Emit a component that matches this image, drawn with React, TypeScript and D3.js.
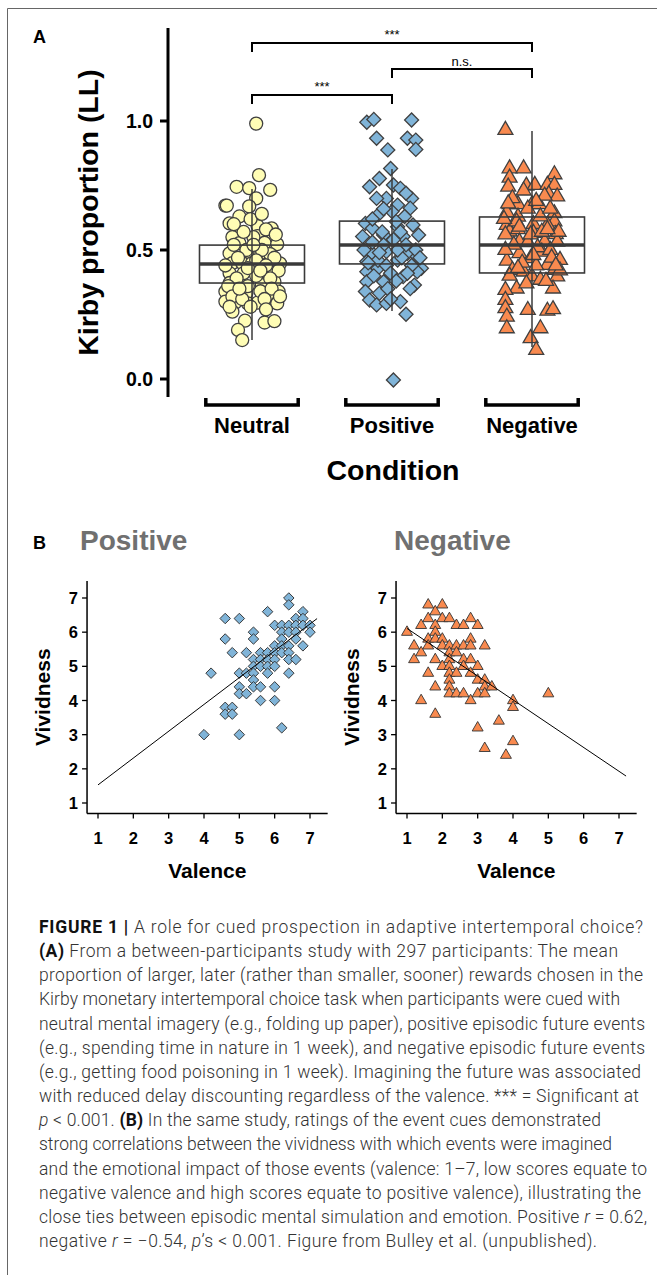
import React from "react";
import * as d3 from "d3";

// ---- Panel A data ----
const conditions = ["Neutral", "Positive", "Negative"];
const yTicksA = [0, 0.5, 1.0];

// [jitter (fraction of category step), Kirby proportion]
const neutralPoints: [number, number][] = [
  [0.03, 0.99], [0.05, 0.79], [-0.11, 0.745], [-0.02, 0.74], [0.13, 0.733], [0.03, 0.70],
  [-0.19, 0.672], [-0.18, 0.672], [-0.02, 0.669], [-0.09, 0.63], [-0.16, 0.603], [0.04, 0.593],
  [0.14, 0.584], [-0.10, 0.566], [-0.14, 0.55], [0.04, 0.554], [0.15, 0.554], [-0.09, 0.527],
  [0.09, 0.528], [0.18, 0.523], [-0.16, 0.487], [-0.03, 0.493], [0.06, 0.487], [0.13, 0.484],
  [-0.14, 0.449], [-0.07, 0.449], [0, 0.449], [0.20, 0.448], [-0.16, 0.41], [0.11, 0.412],
  [0.07, 0.426], [-0.09, 0.377], [-0.16, 0.372], [0.16, 0.377], [-0.19, 0.339], [-0.11, 0.339],
  [-0.04, 0.333], [0.07, 0.364], [0.11, 0.326], [0.19, 0.339], [-0.19, 0.30], [-0.12, 0.296],
  [-0.03, 0.293], [0.04, 0.296], [0.18, 0.293], [-0.14, 0.261], [-0.05, 0.226], [0.09, 0.219],
  [0.16, 0.224], [-0.10, 0.19], [-0.07, 0.151],
  [-0.13, 0.52], [-0.04, 0.50], [0.07, 0.50], [0.16, 0.47], [-0.19, 0.44], [-0.10, 0.47],
  [0.03, 0.46], [0.10, 0.44], [0.19, 0.42], [-0.06, 0.41], [0.03, 0.40], [-0.11, 0.39],
  [0.13, 0.39], [-0.17, 0.36], [-0.03, 0.36], [0.06, 0.34], [0.14, 0.35], [-0.14, 0.32],
  [-0.07, 0.31], [0.09, 0.31], [0.20, 0.32], [-0.01, 0.28], [0.10, 0.27], [-0.16, 0.28],
  [0.01, 0.55], [-0.06, 0.57], [0.10, 0.58], [-0.01, 0.62], [0.07, 0.64], [-0.13, 0.60],
  [0.01, 0.52], [0.17, 0.56], [-0.03, 0.43], [0.06, 0.42], [-0.09, 0.35],
];

const positivePoints: [number, number][] = [
  [-0.18, 0.995], [-0.13, 1.006], [0.14, 1.004], [-0.11, 0.933], [0.11, 0.933], [0.17, 0.926],
  [0.17, 0.89], [-0.03, 0.888], [-0.01, 0.816], [-0.09, 0.777], [-0.16, 0.745], [0.01, 0.752],
  [0.06, 0.739], [0.14, 0.70], [-0.04, 0.70], [0.04, 0.674], [0.13, 0.662], [-0.10, 0.636],
  [0, 0.649], [-0.19, 0.603], [0.15, 0.597], [-0.14, 0.584], [0.04, 0.59], [-0.21, 0.552],
  [-0.06, 0.558], [0.08, 0.552], [0.19, 0.558], [-0.14, 0.487], [-0.04, 0.494], [0.11, 0.487],
  [0.18, 0.474], [-0.18, 0.455], [0.04, 0.461], [-0.10, 0.429], [0.21, 0.429], [-0.18, 0.416],
  [0.08, 0.397], [0.18, 0.416], [-0.18, 0.377], [-0.06, 0.377], [0.16, 0.364], [-0.19, 0.339],
  [-0.09, 0.332], [-0.16, 0.306], [-0.11, 0.287], [-0.04, 0.293], [0.06, 0.30], [0.10, 0.251],
  [0.01, -0.004],
  [-0.14, 0.53], [-0.06, 0.52], [0.01, 0.54], [0.10, 0.52], [0.17, 0.50], [-0.20, 0.50],
  [-0.10, 0.46], [0.07, 0.47], [0.14, 0.44], [-0.04, 0.44], [-0.01, 0.41], [0.11, 0.41],
  [-0.13, 0.40], [0.03, 0.38], [-0.03, 0.35], [0.13, 0.35], [-0.07, 0.57], [0.06, 0.57],
  [-0.14, 0.62], [0.09, 0.63], [-0.06, 0.66], [0.03, 0.61], [-0.11, 0.70], [0.10, 0.72],
  [-0.01, 0.31], [0.20, 0.47], [-0.17, 0.45], [0.04, 0.50], [-0.09, 0.49],
];

const negativePoints: [number, number][] = [
  [-0.19, 0.965], [-0.16, 0.816], [-0.06, 0.816], [0.16, 0.793], [-0.16, 0.78], [-0.17, 0.745],
  [-0.04, 0.749], [0.02, 0.752], [0.11, 0.752], [0.16, 0.752], [0.12, 0.716], [0.18, 0.707],
  [-0.16, 0.677], [-0.10, 0.677], [0, 0.677], [0.05, 0.677], [-0.18, 0.646], [0.16, 0.642],
  [-0.10, 0.629], [0.16, 0.61], [-0.18, 0.597], [0.01, 0.60], [0.11, 0.597], [-0.16, 0.571],
  [-0.10, 0.58], [0.17, 0.561], [-0.19, 0.56], [0.01, 0.566], [-0.09, 0.532], [0.09, 0.532],
  [0.18, 0.532], [-0.09, 0.487], [0.07, 0.493], [-0.01, 0.468], [0.20, 0.461], [-0.18, 0.458],
  [0.11, 0.442], [-0.14, 0.422], [-0.06, 0.416], [0.16, 0.422], [0, 0.397], [0.06, 0.384],
  [0.18, 0.397], [-0.11, 0.35], [-0.19, 0.345], [0.15, 0.35], [-0.19, 0.306], [-0.19, 0.274],
  [-0.03, 0.267], [0.11, 0.264], [0.15, 0.27], [-0.18, 0.241], [-0.18, 0.196], [0.06, 0.196],
  [-0.01, 0.158], [0.03, 0.112],
  [-0.13, 0.52], [-0.03, 0.53], [0.04, 0.51], [0.13, 0.50], [-0.19, 0.50], [-0.07, 0.45],
  [0.03, 0.44], [0.14, 0.47], [-0.16, 0.40], [0.10, 0.38], [-0.04, 0.37], [0.20, 0.42],
  [-0.11, 0.61], [0.06, 0.63], [-0.03, 0.66], [0.13, 0.66], [-0.14, 0.70], [0.09, 0.71],
  [-0.06, 0.73], [0.19, 0.57], [-0.20, 0.62], [-0.01, 0.56], [0.07, 0.57], [-0.09, 0.59],
  [0.01, 0.48], [-0.10, 0.43], [0.17, 0.44], [0.11, 0.58], [-0.17, 0.68], [0.03, 0.69],
];

const groupPoints = [neutralPoints, positivePoints, negativePoints];
const whiskerLow = [0.151, 0.264, 0.124];
const boxQ1 = [0.372, 0.446, 0.411];
const boxMedian = [0.446, 0.519, 0.519];
const boxQ3 = [0.519, 0.612, 0.628];
const whiskerHigh = [0.736, 0.814, 0.961];

const comparisons = [
  { from: 0, to: 2, level: 1.302, label: "***" },
  { from: 1, to: 2, level: 1.202, label: "n.s." },
  { from: 0, to: 1, level: 1.101, label: "***" },
];

// ---- Panel B data ----
const ratingTicks = [1, 2, 3, 4, 5, 6, 7];
const panelTitles = ["Positive", "Negative"];
// [valence, vividness]
const positiveRatings: [number, number][] = [
  [4.0, 3.0], [4.2, 4.8], [4.6, 6.4], [4.6, 5.8], [4.8, 5.4], [4.6, 3.8], [4.6, 3.6], [4.8, 3.8],
  [4.8, 3.6], [5.0, 6.4], [5.0, 4.8], [5.0, 4.4], [5.0, 4.2], [5.0, 3.0], [5.2, 5.4], [5.2, 4.8],
  [5.2, 4.2], [5.4, 6.0], [5.4, 5.8], [5.4, 5.2], [5.4, 5.0], [5.4, 4.8], [5.4, 4.6], [5.4, 4.4],
  [5.6, 5.4], [5.6, 5.2], [5.6, 5.0], [5.6, 4.4], [5.6, 4.0], [5.8, 6.6], [5.8, 5.4], [5.8, 5.2],
  [5.8, 5.0], [5.8, 4.8], [6.0, 6.2], [6.0, 5.6], [6.0, 5.4], [6.0, 5.2], [6.0, 5.0], [6.0, 4.4],
  [6.0, 4.0], [6.2, 6.2], [6.2, 6.0], [6.2, 5.8], [6.2, 5.6], [6.2, 5.4], [6.2, 3.2], [6.4, 7.0],
  [6.4, 6.8], [6.4, 6.2], [6.4, 6.0], [6.4, 5.6], [6.4, 5.4], [6.4, 5.2], [6.4, 4.8], [6.6, 6.4],
  [6.6, 6.2], [6.6, 6.0], [6.6, 5.8], [6.6, 5.2], [6.8, 6.6], [6.8, 6.4], [6.8, 6.2], [6.8, 5.6],
  [7.0, 6.2], [7.0, 6.0],
];
const negativeRatings: [number, number][] = [
  [1.0, 6.0], [1.2, 5.6], [1.2, 5.2], [1.4, 6.2], [1.4, 5.4], [1.4, 4.0], [1.6, 6.8], [1.6, 6.4],
  [1.6, 5.8], [1.6, 5.6], [1.6, 4.8], [1.8, 6.6], [1.8, 6.2], [1.8, 6.0], [1.8, 5.8], [1.8, 5.2],
  [1.8, 4.4], [1.8, 3.6], [2.0, 6.8], [2.0, 6.4], [2.0, 5.8], [2.0, 5.6], [2.0, 5.0], [2.2, 6.4],
  [2.2, 5.6], [2.2, 5.4], [2.2, 5.2], [2.2, 5.0], [2.2, 4.8], [2.2, 4.6], [2.2, 4.4], [2.2, 4.2],
  [2.4, 6.2], [2.4, 5.6], [2.4, 5.4], [2.4, 4.8], [2.4, 4.2], [2.6, 6.2], [2.6, 5.6], [2.6, 5.2],
  [2.6, 5.0], [2.6, 4.2], [2.8, 6.4], [2.8, 5.8], [2.8, 5.6], [2.8, 5.2], [2.8, 4.8], [2.8, 4.0],
  [3.0, 6.2], [3.0, 5.0], [3.0, 4.6], [3.0, 4.2], [3.0, 3.2], [3.2, 5.6], [3.2, 4.6], [3.2, 4.4],
  [3.2, 4.2], [3.2, 2.6], [3.4, 4.4], [3.6, 3.4], [3.8, 2.4], [4.0, 4.0], [4.0, 3.8], [4.0, 2.8],
  [5.0, 4.2],
];
const ratingSets = [positiveRatings, negativeRatings];
const fitSlope = [0.785, -0.697];
const fitIntercept = [0.745, 6.807];
const fitFrom = 1;
const fitTo = 7.2;

// ---- Caption ----
type Seg = [string, "n" | "b" | "i"];
const captionLines: Seg[][] = [
  [["FIGURE 1 |", "b"], [" A role for cued prospection in adaptive intertemporal choice?", "n"]],
  [["(A)", "b"], [" From a between-participants study with 297 participants: The mean", "n"]],
  [["proportion of larger, later (rather than smaller, sooner) rewards chosen in the", "n"]],
  [["Kirby monetary intertemporal choice task when participants were cued with", "n"]],
  [["neutral mental imagery (e.g., folding up paper), positive episodic future events", "n"]],
  [["(e.g., spending time in nature in 1 week), and negative episodic future events", "n"]],
  [["(e.g., getting food poisoning in 1 week). Imagining the future was associated", "n"]],
  [["with reduced delay discounting regardless of the valence. *** = Significant at", "n"]],
  [["p", "i"], [" < 0.001. ", "n"], ["(B)", "b"], [" In the same study, ratings of the event cues demonstrated", "n"]],
  [["strong correlations between the vividness with which events were imagined", "n"]],
  [["and the emotional impact of those events (valence: 1–7, low scores equate to", "n"]],
  [["negative valence and high scores equate to positive valence), illustrating the", "n"]],
  [["close ties between episodic mental simulation and emotion. Positive ", "n"], ["r", "i"], [" = 0.62,", "n"]],
  [["negative ", "n"], ["r", "i"], [" = −0.54, ", "n"], ["p", "i"], ["’s < 0.001. Figure from Bulley et al. (unpublished).", "n"]],
];
const captionRight = [643, 618, 643, 620, 645, 645, 641, 639, 601, 612, 647, 641, 647, 597];

const FONT = "'Liberation Sans', Arial, Helvetica, sans-serif";
const CAPTION_FONT = "Roboto, 'Liberation Sans', Arial, sans-serif";
const fills = ["#FFFDB5", "#80B4D8", "#F98A4F"];
const STROKE = "#404040";

export default function App() {
  // Panel A scales
  const yA = d3.scaleLinear().domain([0, 1]).range([379, 121]);
  const xA = d3.scaleLinear().domain([0, 2]).range([252, 532]);
  const shapesA = [
    d3.symbol().type(d3.symbolCircle).size(133)(),
    d3.symbol().type(d3.symbolSquare).size(98)(),
    d3.symbol().type(d3.symbolTriangle).size(97)(),
  ];
  const shapesB = [
    d3.symbol().type(d3.symbolSquare).size(55)(),
    d3.symbol().type(d3.symbolTriangle).size(52)(),
  ];

  // Panel B scales
  const yB = d3.scaleLinear().domain([1, 7]).range([803, 598]);
  const xBs = [
    d3.scaleLinear().domain([1, 7]).range([98, 310]),
    d3.scaleLinear().domain([1, 7]).range([407, 619]),
  ];
  const titleX = [80, 394];
  const axisLo = 0.69;
  const axisHi = 7.5;

  const lineY = (i: number) => 933 + i * 24.15;

  return (
    <svg
      width={657}
      height={1275}
      style={{ position: "absolute", left: 0, top: 0, background: "#fff" }}
      fontFamily={FONT}
    >
      {/* frame */}
      <line x1={7.5} y1={8.5} x2={657} y2={8.5} stroke="#666" strokeWidth={1} />
      <line x1={7.5} y1={8.5} x2={7.5} y2={1275} stroke="#666" strokeWidth={1} />

      {/* ===== Panel A ===== */}
      <text x={33} y={43} fontSize={18} fontWeight="bold">A</text>

      {groupPoints.map((pts, g) => (
        <g key={"pts" + g}>
          {pts.map(([j, v], k) => (
            <path
              key={k}
              d={shapesA[g] as string}
              transform={`translate(${xA(g + j)},${yA(v)})${g === 1 ? " rotate(45)" : ""}`}
              fill={fills[g]}
              stroke={STROKE}
              strokeWidth={1.3}
            />
          ))}
        </g>
      ))}

      {conditions.map((c, g) => (
        <g key={"box" + g} stroke="#3a3a3a" fill="none">
          <line x1={xA(g)} x2={xA(g)} y1={yA(whiskerLow[g])} y2={yA(whiskerHigh[g])} strokeWidth={1.5} />
          <rect
            x={xA(g - 0.375)}
            width={xA(g + 0.375) - xA(g - 0.375)}
            y={yA(boxQ3[g])}
            height={yA(boxQ1[g]) - yA(boxQ3[g])}
            strokeWidth={1.6}
          />
          <line x1={xA(g - 0.375)} x2={xA(g + 0.375)} y1={yA(boxMedian[g])} y2={yA(boxMedian[g])} strokeWidth={3.5} />
        </g>
      ))}

      {/* y axis */}
      <line x1={168} x2={168} y1={yA(1.36)} y2={yA(-0.07)} stroke="#000" strokeWidth={3} />
      {yTicksA.map((t) => (
        <g key={t}>
          <line x1={160} x2={168} y1={yA(t)} y2={yA(t)} stroke="#000" strokeWidth={3} />
          <text x={153} y={yA(t) + 7} textAnchor="end" fontSize={19.5} fontWeight="bold">
            {t.toFixed(1)}
          </text>
        </g>
      ))}
      <text
        transform={`translate(98,${(yA(1.36) + yA(-0.07)) / 2}) rotate(-90)`}
        textAnchor="middle"
        fontSize={28.5}
        fontWeight="bold"
      >
        Kirby proportion (LL)
      </text>

      {/* x axis brackets */}
      {conditions.map((c, g) => (
        <g key={"x" + g}>
          <path
            d={`M${xA(g - 0.33)},398V405H${xA(g + 0.33)}V398`}
            fill="none"
            stroke="#000"
            strokeWidth={3.5}
          />
          <text x={xA(g)} y={433} textAnchor="middle" fontSize={22} fontWeight="bold">
            {c}
          </text>
        </g>
      ))}
      <text x={393} y={480} textAnchor="middle" fontSize={28.5} fontWeight="bold">
        Condition
      </text>

      {/* significance */}
      {comparisons.map((cmp, k) => (
        <g key={"cmp" + k}>
          <path
            d={`M${xA(cmp.from)},${yA(cmp.level - 0.035)}V${yA(cmp.level)}H${xA(cmp.to)}V${yA(cmp.level - 0.035)}`}
            fill="none"
            stroke="#000"
            strokeWidth={2}
          />
          <text
            x={(xA(cmp.from) + xA(cmp.to)) / 2}
            y={yA(cmp.level) - (cmp.label === "n.s." ? 3 : 4)}
            textAnchor="middle"
            fontSize={13}
          >
            {cmp.label}
          </text>
        </g>
      ))}

      {/* ===== Panel B ===== */}
      <text x={33} y={549} fontSize={18} fontWeight="bold">B</text>
      {ratingSets.map((set, p) => {
        const xB = xBs[p];
        const x0 = xB(axisLo);
        const y0 = yB(axisLo);
        return (
          <g key={"pb" + p}>
            <text x={titleX[p]} y={550} fontSize={28} fontWeight="bold" fill="#707070">
              {panelTitles[p]}
            </text>
            {set.map(([vx, vy], k) => (
              <path
                key={k}
                d={shapesB[p] as string}
                transform={`translate(${xB(vx)},${yB(vy)})${p === 0 ? " rotate(45)" : ""}`}
                fill={fills[p + 1]}
                stroke="#333"
                strokeWidth={0.9}
              />
            ))}
            <line
              x1={xB(fitFrom)}
              y1={yB(fitIntercept[p] + fitSlope[p] * fitFrom)}
              x2={xB(fitTo)}
              y2={yB(fitIntercept[p] + fitSlope[p] * fitTo)}
              stroke="#000"
              strokeWidth={1}
            />
            {/* axes */}
            <line x1={x0} x2={x0} y1={yB(axisHi)} y2={y0} stroke="#000" strokeWidth={1.5} />
            <line x1={x0} x2={xB(axisHi)} y1={y0} y2={y0} stroke="#000" strokeWidth={1.5} />
            {ratingTicks.map((t) => (
              <g key={"t" + t}>
                <line x1={x0 - 5} x2={x0} y1={yB(t)} y2={yB(t)} stroke="#000" strokeWidth={1.3} />
                <text x={x0 - 9} y={yB(t) + 6} textAnchor="end" fontSize={16.5} fontWeight="bold">
                  {t}
                </text>
                <line x1={xB(t)} x2={xB(t)} y1={y0} y2={y0 + 5} stroke="#000" strokeWidth={1.3} />
                <text x={xB(t)} y={844} textAnchor="middle" fontSize={16.5} fontWeight="bold">
                  {t}
                </text>
              </g>
            ))}
            <text
              transform={`translate(${x0 - 37},${(yB(axisHi) + y0) / 2}) rotate(-90)`}
              textAnchor="middle"
              fontSize={21}
              fontWeight="bold"
            >
              Vividness
            </text>
            <text x={(x0 + xB(axisHi)) / 2} y={878} textAnchor="middle" fontSize={21} fontWeight="bold">
              Valence
            </text>
          </g>
        );
      })}

      {/* ===== Caption ===== */}
      {captionLines.map((segs, i) => (
        <text
          key={"cap" + i}
          x={39}
          y={lineY(i)}
          fontFamily={CAPTION_FONT}
          fontSize={17.5}
          fontWeight={300}
          fill="#333"
          textLength={captionRight[i] - 39}
          lengthAdjust="spacing"
        >
          {segs.map(([s, st], k) => (
            <tspan
              key={k}
              fontWeight={st === "b" ? 700 : 300}
              fontStyle={st === "i" ? "italic" : "normal"}
              fill={st === "b" ? "#111" : "#333"}
            >
              {s}
            </tspan>
          ))}
        </text>
      ))}
    </svg>
  );
}
